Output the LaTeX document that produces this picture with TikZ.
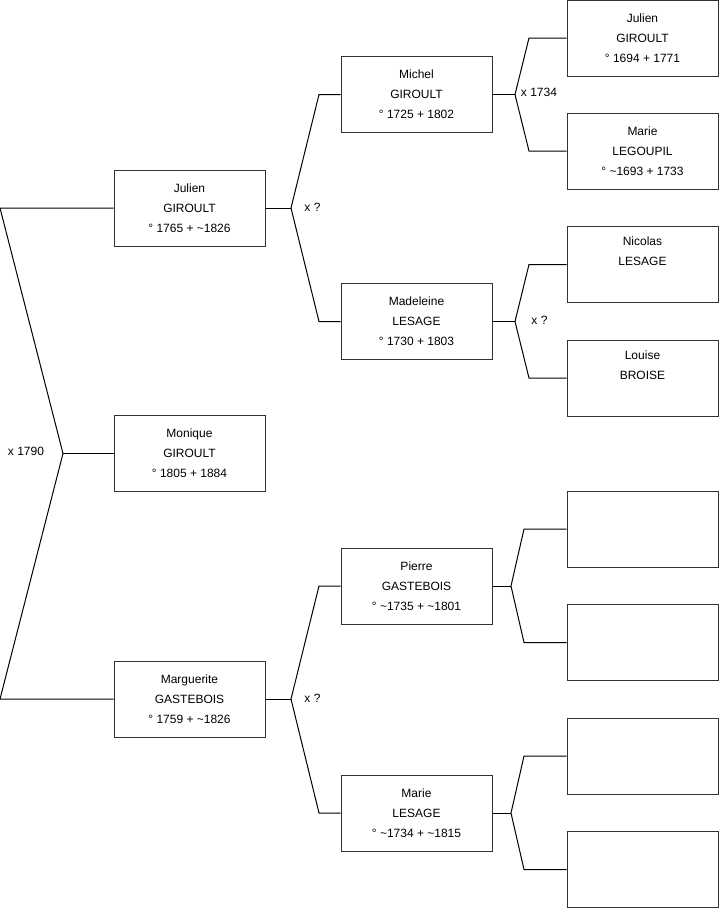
\documentclass[tikz,border=0pt]{standalone}
\usepackage{fontspec}
\setmainfont{Liberation Sans}
\usepackage{tikz}
\usetikzlibrary{calc,positioning}

\tikzset{
  pbox/.style={draw=black!80, line width=0.75pt, minimum width=113.25pt, minimum height=57pt,
    inner sep=0pt, align=center, font=\fontsize{9}{15}\selectfont},
  lien/.style={line width=0.75pt, black},
  mar/.style={font=\fontsize{9}{11}\selectfont, inner sep=0pt}
}

\begin{document}
\begin{tikzpicture}[x=0.75pt, y=-0.75pt]
\useasboundingbox (0,0) rectangle (719,908);
% Generation 1
\node[pbox] (julien) at (189.5,208) {Julien\\GIROULT\\° 1765 + \textasciitilde1826};
\node[pbox] (monique) at (189.5,453.5) {Monique\\GIROULT\\° 1805 + 1884};
\node[pbox] (marguerite) at (189.5,699) {Marguerite\\GASTEBOIS\\° 1759 + \textasciitilde1826};
% Generation 2
\node[pbox] (michel) at (416.5,94.5) {Michel\\GIROULT\\° 1725 + 1802};
\node[pbox] (madeleine) at (416.5,321.5) {Madeleine\\LESAGE\\° 1730 + 1803};
\node[pbox] (pierre) at (416.5,586) {Pierre\\GASTEBOIS\\° \textasciitilde1735 + \textasciitilde1801};
\node[pbox] (marieL) at (416.5,813) {Marie\\LESAGE\\° \textasciitilde1734 + \textasciitilde1815};
% Generation 3
\node[pbox] (julienA) at (642.5,38) {Julien\\GIROULT\\° 1694 + 1771};
\node[pbox] (marieG) at (642.5,151) {Marie\\LEGOUPIL\\° \textasciitilde1693 + 1733};
\node[pbox] (nicolas) at (642.5,264.5) {Nicolas\\LESAGE\\\strut};
\node[pbox] (louise) at (642.5,378) {Louise\\BROISE\\\strut};
\node[pbox] (vide1) at (642.5,529) {};
\node[pbox] (vide2) at (642.5,642.5) {};
\node[pbox] (vide3) at (642.5,756) {};
\node[pbox] (vide4) at (642.5,869.5) {};
% Mariages
\coordinate (f0) at (63,453.5);
\coordinate (f0a) at (0,208);
\coordinate (f0b) at (0,699);
\draw[lien] (julien.west) -- (f0a) -- (f0) -- (f0b) -- (marguerite.west);
\draw[lien] (f0) -- (monique.west);
\node[mar] (m0) at (26,451) {x 1790};

\coordinate (fj) at (291,208);
\coordinate (fj1) at (319,94.5);
\coordinate (fj2) at (319,321.5);
\draw[lien] (julien.east) -- (fj);
\draw[lien] (michel.west) -- (fj1) -- (fj) -- (fj2) -- (madeleine.west);
\node[mar] (m1) at (312.5,207) {x ?};

\coordinate (fg) at (291,699);
\coordinate (fg1) at (319,586);
\coordinate (fg2) at (319,813);
\draw[lien] (marguerite.east) -- (fg);
\draw[lien] (pierre.west) -- (fg1) -- (fg) -- (fg2) -- (marieL.west);
\node[mar] (m2) at (312.5,698) {x ?};

\coordinate (fm) at (515,94.5);
\coordinate (fm1) at (529,38);
\coordinate (fm2) at (529,151);
\draw[lien] (michel.east) -- (fm);
\draw[lien] (julienA.west) -- (fm1) -- (fm) -- (fm2) -- (marieG.west);
\node[mar] (m3) at (539,92) {x 1734};

\coordinate (fl) at (515,321.5);
\coordinate (fl1) at (529,264.5);
\coordinate (fl2) at (529,378);
\draw[lien] (madeleine.east) -- (fl);
\draw[lien] (nicolas.west) -- (fl1) -- (fl) -- (fl2) -- (louise.west);
\node[mar] (m4) at (539.5,320) {x ?};

\coordinate (fp) at (511,586);
\coordinate (fp1) at (524,529);
\coordinate (fp2) at (524,642.5);
\draw[lien] (pierre.east) -- (fp);
\draw[lien] (vide1.west) -- (fp1) -- (fp) -- (fp2) -- (vide2.west);

\coordinate (fs) at (511,813);
\coordinate (fs1) at (524,756);
\coordinate (fs2) at (524,869.5);
\draw[lien] (marieL.east) -- (fs);
\draw[lien] (vide3.west) -- (fs1) -- (fs) -- (fs2) -- (vide4.west);
\end{tikzpicture}
\end{document}
